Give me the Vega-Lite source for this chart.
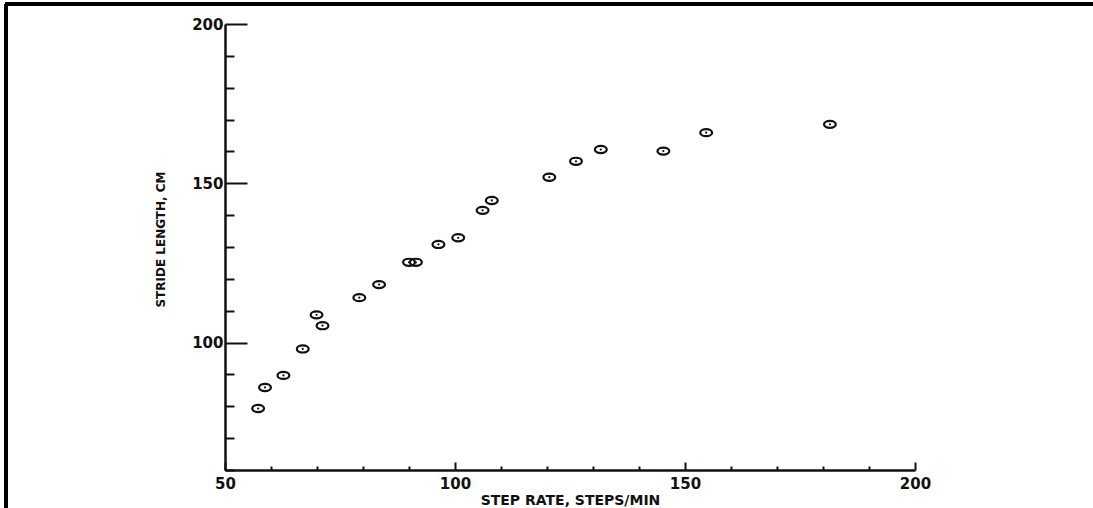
{
  "$schema": "https://vega.github.io/schema/vega-lite/v6.json",
  "width": 690,
  "height": 446,
  "autosize": {"type": "none"},
  "padding": {"left": 225, "top": 24, "right": 178, "bottom": 38},
  "background": "white",
  "config": {"view": {"stroke": null}, "font": "DejaVu Sans"},
  "data": {
    "values": [
      {"rate": 57.2, "stride": 79.3},
      {"rate": 58.7, "stride": 85.9},
      {"rate": 62.7, "stride": 89.7},
      {"rate": 66.9, "stride": 98.0},
      {"rate": 69.9, "stride": 108.7},
      {"rate": 71.2, "stride": 105.3},
      {"rate": 79.2, "stride": 114.1},
      {"rate": 83.5, "stride": 118.2},
      {"rate": 90.0, "stride": 125.2},
      {"rate": 91.5, "stride": 125.2},
      {"rate": 96.4, "stride": 130.8},
      {"rate": 100.7, "stride": 132.9},
      {"rate": 106.0, "stride": 141.5},
      {"rate": 108.0, "stride": 144.6},
      {"rate": 120.5, "stride": 151.9},
      {"rate": 126.3, "stride": 156.9},
      {"rate": 131.7, "stride": 160.6},
      {"rate": 145.3, "stride": 160.1},
      {"rate": 154.6, "stride": 165.9},
      {"rate": 181.5, "stride": 168.5}
    ]
  },
  "layer": [
    {
      "mark": {"type": "point", "shape": "M-1,0 A1,0.6 0 1,0 1,0 A1,0.6 0 1,0 -1,0 Z", "filled": false, "stroke": "#111", "strokeWidth": 2.2, "size": 140, "opacity": 1},
      "encoding": {
        "x": {
          "field": "rate", "type": "quantitative",
          "scale": {"domain": [50, 200], "nice": false, "zero": false},
          "axis": {
            "values": [50, 60, 70, 80, 90, 100, 110, 120, 130, 140, 150, 160, 170, 180, 190, 200],
            "tickCount": 40,
            "labelExpr": "datum.value % 50 === 0 ? datum.label : ''",
            "tickSize": {"condition": {"test": "datum.value % 50 === 0", "value": -8}, "value": -4},
            "tickWidth": 2, "tickColor": "#111",
            "domainColor": "#111", "domainWidth": 2.5,
            "grid": false, "labelFlush": false, "labelOverlap": false,
            "labelFont": "DejaVu Sans", "labelFontSize": 15, "labelFontWeight": "bold", "labelColor": "#111",
            "labelPadding": 14,
            "title": "STEP RATE, STEPS/MIN",
            "titleFont": "DejaVu Sans", "titleFontSize": 14, "titleFontWeight": "bold", "titleColor": "#111",
            "titleBaseline": "top",
            "titleY": 23
          }
        },
        "y": {
          "field": "stride", "type": "quantitative",
          "scale": {"domain": [60, 200], "nice": false, "zero": false},
          "axis": {
            "values": [60, 70, 80, 90, 100, 110, 120, 130, 140, 150, 160, 170, 180, 190, 200],
            "tickCount": 40,
            "labelExpr": "datum.value % 50 === 0 ? datum.label : ''",
            "tickSize": {"condition": {"test": "datum.value % 50 === 0", "value": -22}, "value": -9},
            "tickWidth": 2, "tickColor": "#111",
            "domainColor": "#111", "domainWidth": 2.5,
            "grid": false, "labelFlush": false, "labelOverlap": false,
            "labelFont": "DejaVu Sans", "labelFontSize": 15, "labelFontWeight": "bold", "labelColor": "#111",
            "labelPadding": 24,
            "title": "STRIDE LENGTH, CM",
            "titleFont": "DejaVu Sans", "titleFontSize": 12, "titleFontWeight": "bold", "titleColor": "#111",
            "titlePadding": 24,
            "titleY": 215
          }
        }
      }
    },
    {
      "mark": {"type": "point", "shape": "circle", "filled": true, "color": "#111", "size": 5, "opacity": 1},
      "encoding": {
        "x": {"field": "rate", "type": "quantitative"},
        "y": {"field": "stride", "type": "quantitative"}
      }
    },
    {
      "mark": {"type": "rule", "color": "black", "strokeWidth": 3, "clip": false},
      "encoding": {
        "y": {"datum": 206.3, "type": "quantitative"},
        "x": {"datum": 2.2, "type": "quantitative"},
        "x2": {"datum": 245}
      }
    },
    {
      "mark": {"type": "rule", "color": "black", "strokeWidth": 3, "clip": false},
      "encoding": {
        "x": {"datum": 2.4, "type": "quantitative"},
        "y": {"datum": 40, "type": "quantitative"},
        "y2": {"datum": 206.3}
      }
    }
  ]
}
